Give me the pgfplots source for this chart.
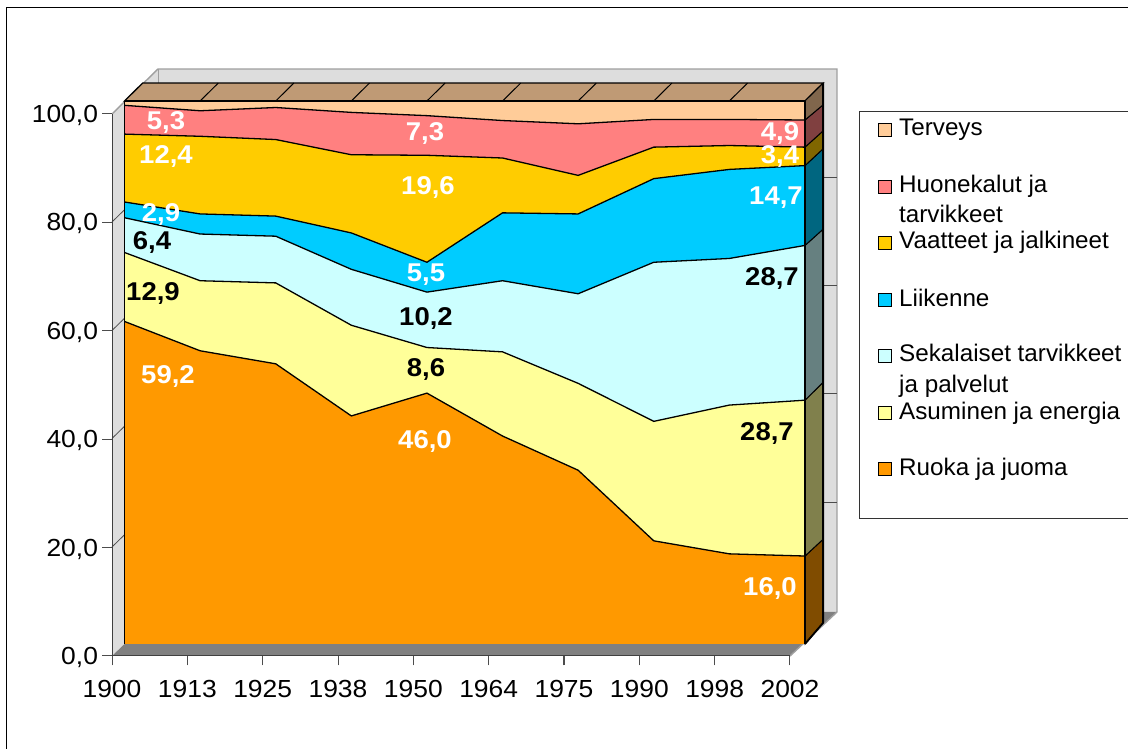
\documentclass[border=0pt]{standalone}
\usepackage{pgfplots}
\usepackage{pgfplotstable}
\usepackage{fontspec}
\setmainfont[FakeStretch=1.07]{Liberation Sans}
\newfontfamily\legf[FakeStretch=1.01]{Liberation Sans}
\pgfplotsset{compat=1.18}
\definecolor{cTer}{HTML}{FFCC99}
\definecolor{cHuo}{HTML}{FF8080}
\definecolor{cVaa}{HTML}{FFCC00}
\definecolor{cLii}{HTML}{00CCFF}
\definecolor{cSek}{HTML}{CCFFFF}
\definecolor{cAsu}{HTML}{FFFF99}
\definecolor{cRuo}{HTML}{FF9900}
\definecolor{wall}{HTML}{DDDDDD}
\definecolor{floorc}{HTML}{808080}
\definecolor{topc}{HTML}{BF9A75}
% cumulative upper edge of each band at each category position
\pgfplotstableread{
x Ruo Asu Sek Lii Vaa Huo Ter
0 59.4 72.1 78.5 81.4 93.9 99.2 100
1 54.0 66.9 75.5 79.2 93.5 98.2 100
2 51.6 66.5 75.1 78.8 92.9 98.8 100
3 42.0 58.7 69.0 75.7 90.1 97.9 100
4 46.2 54.6 64.8 70.3 90.0 97.3 100
5 38.3 53.8 66.9 79.4 89.5 96.4 100
6 32.0 48.0 64.5 79.2 86.3 95.8 100
7 19.0 41.0 70.3 85.7 91.5 96.6 100
8 16.6 44.0 71.0 87.4 91.8 96.6 100
9 16.2 44.9 73.4 88.1 91.5 96.5 100
}\bounds
\newcommand\band[2]{\addplot[fill=#2,draw=none] table[x=x,y=#1]{\bounds} \closedcycle;}
\newcommand\edge[1]{\addplot[black,line width=1.3pt] table[x=x,y=#1]{\bounds};}
\newcommand\side[5]{\addplot[fill=#1!50!black,draw=black,line width=1pt] coordinates {(9,#2) (9,#3) (9.24,#4) (9.24,#5)} --cycle;}
\newcommand\lbl[4]{\node[text=#4,font=\fontsize{25.7}{26}\selectfont\bfseries,inner sep=0pt] at (#1,#2) {#3};}
\newcommand\leg[3]{\fill[#2] (878,#1-6.5) rectangle (891,#1+6.5); \draw[black,line width=1pt] (878,#1-6.5) rectangle (891,#1+6.5);}
\newcommand\legt[2]{\node[anchor=base west,inner sep=0pt,font=\legf\fontsize{24}{24}\selectfont] at (899,#1) {#2};}
\begin{document}
\begin{tikzpicture}[x=1pt,y=1pt]
\useasboundingbox (0,0) rectangle (1128,749);
\begin{scope}[shift={(0pt,749pt)},y=-1pt]
% chart frame
\fill[white] (0,0) rectangle (1128,749);
\draw[black,line width=1pt] (6,749) -- (6,8) -- (1128,8);
% walls and floor
\fill[wall] (158,69) rectangle (837,612);
\fill[wall] (112,114) -- (158,69) -- (158,612) -- (112,656) -- cycle;
\fill[floorc] (112,656) -- (158,612) -- (837,612) -- (790,656) -- cycle;
\draw[gray!75,line width=1.4pt] (112,114) -- (158,69) -- (837,69) -- (837,612) -- (790,656);
\draw[gray!75,line width=1pt] (158,69) -- (158,612);
\foreach \y in {502,393.5,285.5,177}{
  \draw[black!70,line width=0.8pt] (158,\y) -- (837,\y);
  \draw[black!70,line width=0.8pt] (112,\y+45) -- (158,\y);
}
\end{scope}
% axis with the ticks
\begin{axis}[
  at={(112pt,93pt)},anchor=south west,scale only axis,width=678pt,height=542pt,
  xmin=0,xmax=9,ymin=0,ymax=100,
  axis x line*=bottom,axis y line*=left,axis line style={-,black!75,line width=1pt},
  xtick={0,...,9},xticklabels={1900,1913,1925,1938,1950,1964,1975,1990,1998,2002},
  ytick={0,20,40,60,80,100},yticklabels={{0,0},{20,0},{40,0},{60,0},{80,0},{100,0}},
  tick align=outside,major tick length=9.5pt,
  tick style={black!70,line width=1pt},
  tick label style={font=\fontsize{24.7}{25}\selectfont,black},
  xticklabel style={yshift=-11pt},
  yticklabel style={xshift=-1pt,yshift=-1.5pt},
]
\end{axis}
% data on the front plane of the 3-D area
\begin{axis}[
  at={(124.5pt,105pt)},anchor=south west,scale only axis,width=680.5pt,height=543pt,
  xmin=0,xmax=9,ymin=0,ymax=100,hide axis,clip=false,
]
% depth faces
\addplot[fill=topc,draw=black,line width=1.3pt] coordinates {(0,100) (0.24,103.3) (9.24,103.3) (9,100)} --cycle;
\addplot[black,line width=1pt] coordinates {(1,100) (1.24,103.3)};
\addplot[black,line width=1pt] coordinates {(2,100) (2.24,103.3)};
\addplot[black,line width=1pt] coordinates {(3,100) (3.24,103.3)};
\addplot[black,line width=1pt] coordinates {(4,100) (4.24,103.3)};
\addplot[black,line width=1pt] coordinates {(5,100) (5.24,103.3)};
\addplot[black,line width=1pt] coordinates {(6,100) (6.24,103.3)};
\addplot[black,line width=1pt] coordinates {(7,100) (7.24,103.3)};
\addplot[black,line width=1pt] coordinates {(8,100) (8.24,103.3)};
\side{cRuo}{0}{16.2}{19.3}{3.9}
\side{cAsu}{16.2}{44.9}{48.2}{19.3}
\side{cSek}{44.9}{73.4}{76.4}{48.2}
\side{cLii}{73.4}{88.1}{91.2}{76.4}
\side{cVaa}{88.1}{91.5}{94.5}{91.2}
\side{cHuo}{91.5}{96.5}{99.3}{94.5}
\side{cTer}{96.5}{100}{103.3}{99.3}
% front faces, upper band first
\band{Ter}{cTer}
\band{Huo}{cHuo}
\band{Vaa}{cVaa}
\band{Lii}{cLii}
\band{Sek}{cSek}
\band{Asu}{cAsu}
\band{Ruo}{cRuo}
\edge{Ruo}
\edge{Asu}
\edge{Sek}
\edge{Lii}
\edge{Vaa}
\edge{Huo}
\edge{Ter}
\addplot[black,line width=1.3pt] coordinates {(0,0) (0,100)};
\addplot[black,line width=1.3pt] coordinates {(9,0) (9,100)};
\addplot[black,line width=1.8pt] coordinates {(9,0) (9.24,3.9) (9.24,103.3)};
\end{axis}
\begin{scope}[shift={(0pt,749pt)},y=-1pt]
% value labels
\lbl{166}{123}{5,3}{white}
\lbl{166}{157}{12,4}{white}
\lbl{161}{215}{2,9}{white}
\lbl{152}{243}{6,4}{black}
\lbl{153}{294}{12,9}{black}
\lbl{168}{377}{59,2}{white}
\lbl{425}{134}{7,3}{white}
\lbl{428}{188}{19,6}{white}
\lbl{426}{275}{5,5}{white}
\lbl{426}{319}{10,2}{black}
\lbl{426}{370}{8,6}{black}
\lbl{425}{442}{46,0}{white}
\lbl{780}{134}{4,9}{white}
\lbl{780}{157}{3,4}{white}
\lbl{776}{198}{14,7}{white}
\lbl{772}{279}{28,7}{black}
\lbl{767}{434}{28,7}{black}
\lbl{770}{589}{16,0}{white}
% legend
\draw[black!80,line width=1pt] (1128,112) -- (859.5,112) -- (859.5,519) -- (1128,519);
\leg{130}{cTer}{}
\leg{187}{cHuo}{}
\leg{243}{cVaa}{}
\leg{300.5}{cLii}{}
\leg{356.5}{cSek}{}
\leg{413}{cAsu}{}
\leg{469}{cRuo}{}
\legt{136}{Terveys}
\legt{192.7}{Huonekalut ja}
\legt{222.7}{tarvikkeet}
\legt{249}{Vaatteet ja jalkineet}
\legt{306.7}{Liikenne}
\legt{362}{Sekalaiset tarvikkeet}
\legt{392.7}{ja palvelut}
\legt{420}{Asuminen ja energia}
\legt{475.7}{Ruoka ja juoma}
\end{scope}
\end{tikzpicture}
\end{document}
